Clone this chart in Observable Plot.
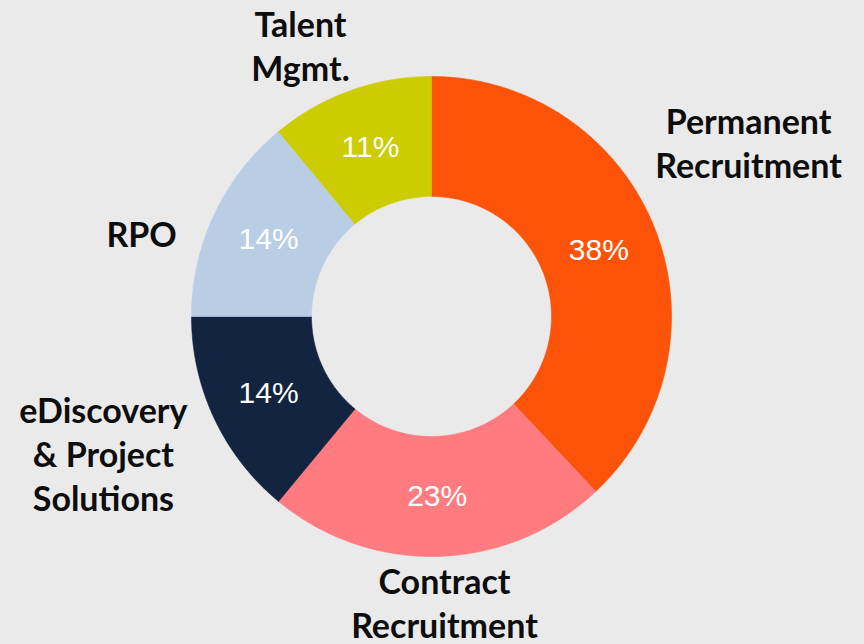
<!DOCTYPE html>
<html>
<head>
<meta charset="utf-8">
<script src="https://cdn.jsdelivr.net/npm/d3@7"></script>
<script src="https://cdn.jsdelivr.net/npm/@observablehq/plot@0.6"></script>
<style>
  html, body { margin: 0; padding: 0; background: #EAEAEA; }
  #chart svg { display: block; }
</style>
</head>
<body>
<div id="chart"></div>
<script>
// ---- data ----
const categories = ["Permanent\nRecruitment", "Contract\nRecruitment", "eDiscovery\n& Project\nSolutions", "RPO", "Talent\nMgmt."];
const shares = [38, 23, 14, 14, 11];
const colors = ["#FC5308", "#FF7B7F", "#12243F", "#B9CDE5", "#CCCC00"];
// label layout (center of label block in chart units; donut outer radius = 1)
const labelX = [1.321, 0.054, -1.367, -1.208, -0.546];
const labelY = [0.729, -1.19, -0.567, 0.35, 1.133];

const W = 864, H = 644;
const cx = 431, cy = 316, R = 240;
const inner = 0.5;

const pie = d3.pie().sort(null).value(d => d)(shares);

// build slice polygons (angles measured clockwise from 12 o'clock)
const polys = [];
pie.forEach((p, i) => {
  const a0 = p.startAngle, a1 = p.endAngle;
  const n = Math.max(2, Math.ceil((a1 - a0) / (Math.PI / 360)));
  const pts = [];
  for (let k = 0; k <= n; k++) {
    const a = a0 + (a1 - a0) * k / n;
    pts.push({x: Math.sin(a), y: Math.cos(a)});
  }
  for (let k = n; k >= 0; k--) {
    const a = a0 + (a1 - a0) * k / n;
    pts.push({x: inner * Math.sin(a), y: inner * Math.cos(a)});
  }
  pts.push(pts[0]);
  pts.forEach(q => polys.push({...q, cat: categories[i], color: colors[i]}));
});

const pct = pie.map((p, i) => {
  const a = (p.startAngle + p.endAngle) / 2;
  const r = (1 + inner) / 2;
  return {x: r * Math.sin(a), y: r * Math.cos(a), text: shares[i] + "%"};
});

const outerLabels = categories.map((c, i) => ({x: labelX[i], y: labelY[i], text: c}));

const chart = Plot.plot({
  width: W,
  height: H,
  margin: 0,
  style: {background: "#EAEAEA"},
  x: {domain: [-cx / R, (W - cx) / R], axis: null},
  y: {domain: [-(H - cy) / R, cy / R], axis: null},
  marks: [
    Plot.line(polys, {x: "x", y: "y", z: "cat", fill: "color", stroke: "color", strokeWidth: 0.6, curve: "linear"}),
    Plot.text(pct, {x: "x", y: "y", text: "text", fill: "white", fontSize: 30,
      fontFamily: "'Liberation Sans', Arial, sans-serif"}),
    Plot.text(outerLabels, {x: "x", y: "y", text: "text", fill: "#0D0D0D", fontSize: 34, fontWeight: "bold",
      lineHeight: 1.294, lineAnchor: "middle", textAnchor: "middle",
      fontFamily: "Lato, 'Open Sans', sans-serif"})
  ]
});
document.getElementById("chart").appendChild(chart);
</script>
</body>
</html>
